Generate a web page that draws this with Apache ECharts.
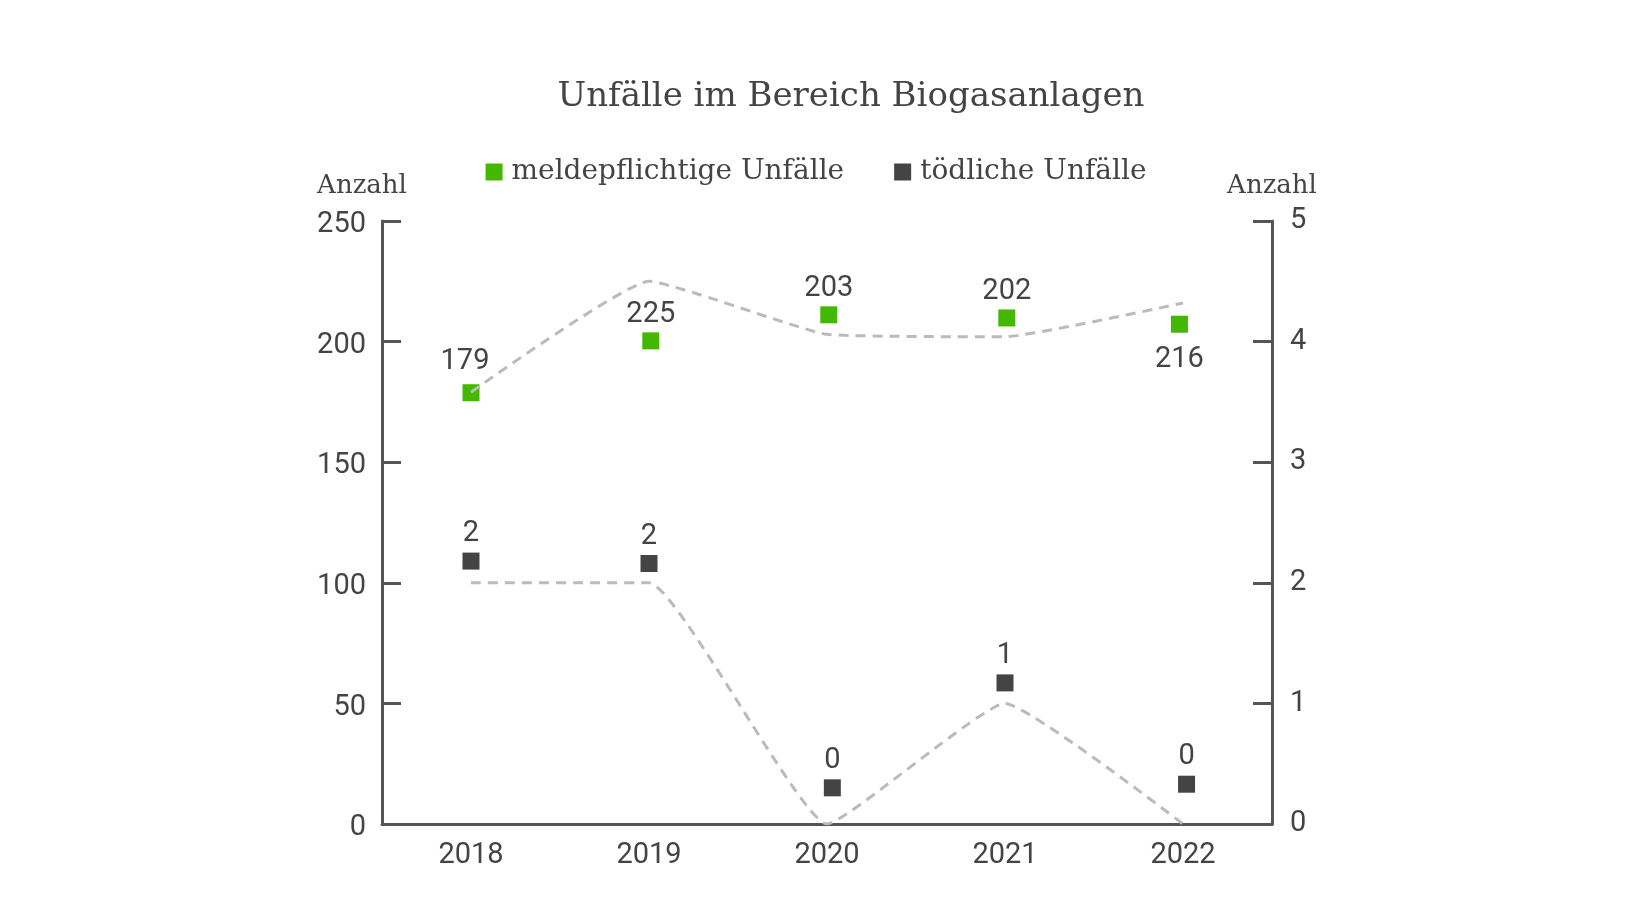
<!DOCTYPE html>
<html><head><meta charset="utf-8">
<script src="https://cdn.jsdelivr.net/npm/echarts@6/dist/echarts.min.js"></script>
<style>html,body{margin:0;padding:0;background:#fff}#c{width:1632px;height:918px}</style>
</head><body><div id="c"></div>
<script>
var years = ['2018','2019','2020','2021','2022'];
var meldepflichtig = [179, 225, 203, 202, 216];
var toedlich = [2, 2, 0, 1, 0];
// marker positions as drawn in the reference (offset from the line values)
var meldeMarkerX = [0, 1.01, 2.01, 3.01, 3.98];
var meldeMarkerPos = [178.8, 200.3, 211.1, 209.8, 207.2];
var toedMarkerX = [0, 1.0, 2.03, 3.0, 4.02];
var toedMarkerPos = [2.18, 2.16, 0.30, 1.17, 0.33];
var leftTicks = [0, 50, 100, 150, 200, 250];
var rightTicks = [0, 1, 2, 3, 4, 5];

var serif = '"DejaVu Serif", serif';
var sans = 'Roboto, sans-serif';
var txt = '#444';
var green = '#44b700';
var dark = '#444444';
var axisCol = '#555';

var chart = echarts.init(document.getElementById('c'));
chart.setOption({
  animation: false,
  title: {text: 'Unfälle im Bereich Biogasanlagen', left: 846, top: 75, textAlign: 'center',
    textStyle: {fontFamily: serif, fontWeight: 'normal', fontSize: 34, color: txt}},
  legend: {top: 153, left: 'center', itemWidth: 17, itemHeight: 17, itemGap: 50, icon: 'rect',
    data: ['meldepflichtige Unfälle', 'tödliche Unfälle'],
    textStyle: {fontFamily: serif, fontSize: 28, color: txt, padding: [0, 0, 0, 4]}},
  grid: {left: 382, right: 360, top: 221, bottom: 94, containLabel: false},
  xAxis: [
    {type: 'category', data: years, boundaryGap: true,
     axisLine: {lineStyle: {color: axisCol, width: 3}},
     axisTick: {inside: true, length: 16, lineStyle: {color: axisCol, width: 3}},
     axisLabel: {fontFamily: sans, fontSize: 29, color: txt, margin: 17}},
    {type: 'value', min: -0.5, max: 4.5, show: false}
  ],
  yAxis: [
    {type: 'value', min: 0, max: 250, interval: 50, name: 'Anzahl', nameLocation: 'end', nameGap: 22,
     nameTextStyle: {fontFamily: serif, fontSize: 26, color: txt, align: 'center', padding: [0, 40, 0, 0]},
     splitLine: {show: false},
     axisLine: {show: true, onZero: false, lineStyle: {color: axisCol, width: 3}},
     axisTick: {show: true, inside: true, length: 19, lineStyle: {color: axisCol, width: 3}},
     axisLabel: {fontFamily: sans, fontSize: 29, color: txt, margin: 16, verticalAlign: 'top', lineHeight: 8}},
    {type: 'value', min: 0, max: 5, interval: 1, name: 'Anzahl', nameLocation: 'end', nameGap: 22,
     nameTextStyle: {fontFamily: serif, fontSize: 26, color: txt, align: 'center'},
     splitLine: {show: false},
     axisLine: {show: true, onZero: false, lineStyle: {color: axisCol, width: 3}},
     axisTick: {show: true, inside: true, length: 19, lineStyle: {color: axisCol, width: 3}},
     axisLabel: {fontFamily: sans, fontSize: 29, color: txt, margin: 18}}
  ],
  series: [
    {type: 'line', xAxisIndex: 0, yAxisIndex: 0, data: meldepflichtig, showSymbol: false, smooth: 0.12, silent: true,
     lineStyle: {color: '#bbbbbb', width: 3, type: [10, 7]}},
    {type: 'line', xAxisIndex: 0, yAxisIndex: 1, data: toedlich, showSymbol: false, smooth: 0.12, silent: true,
     lineStyle: {color: '#bbbbbb', width: 3, type: [10, 7]}},
    {name: 'meldepflichtige Unfälle', type: 'scatter', xAxisIndex: 1, yAxisIndex: 0, symbol: 'rect', symbolSize: 17,
     itemStyle: {color: green, opacity: 1},
     data: meldeMarkerPos.map(function (v, i) {
       return {value: [meldeMarkerX[i], v],
         label: i === 4 ? {position: 'bottom', distance: 13} : (i === 0 ? {offset: [-6, -5]} : {})};
     }),
     label: {show: true, position: 'top', distance: 3, fontFamily: sans, fontSize: 29, color: txt,
       formatter: function (p) { return meldepflichtig[p.dataIndex]; }}},
    {name: 'tödliche Unfälle', type: 'scatter', xAxisIndex: 1, yAxisIndex: 1, symbol: 'rect', symbolSize: 17,
     itemStyle: {color: dark, opacity: 1},
     data: toedMarkerPos.map(function (v, i) { return [toedMarkerX[i], v]; }),
     label: {show: true, position: 'top', distance: 4, fontFamily: sans, fontSize: 29, color: txt,
       formatter: function (p) { return toedlich[p.dataIndex]; }}}
  ]
});
</script></body></html>
